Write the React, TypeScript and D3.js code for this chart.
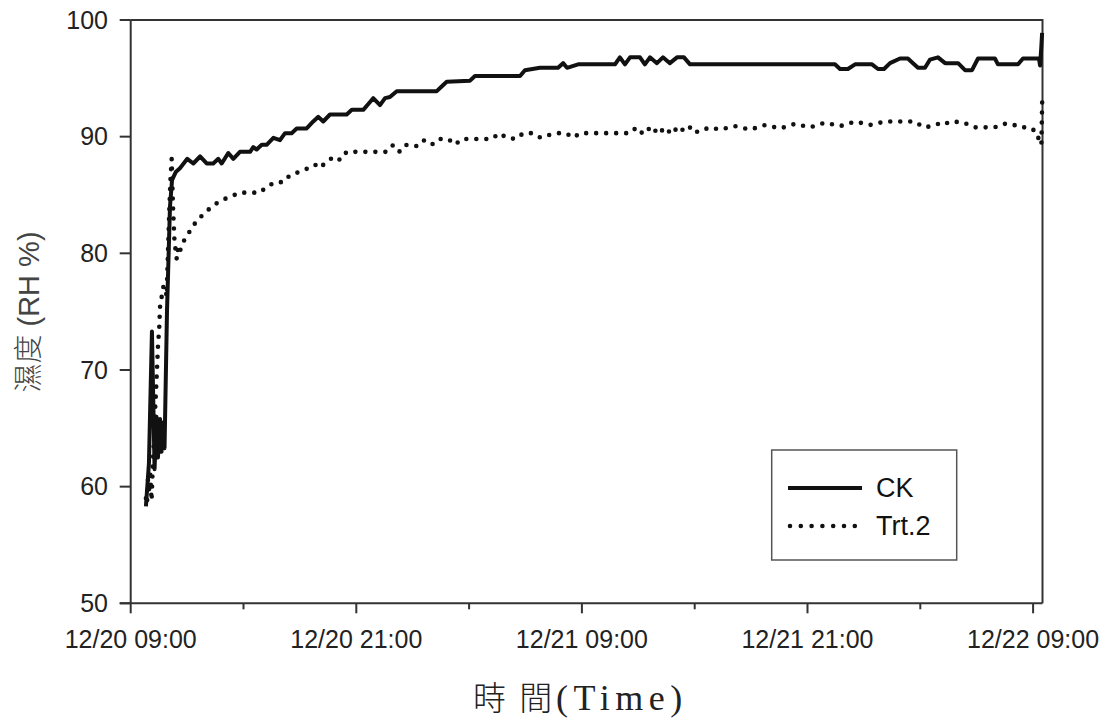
import * as d3 from 'd3'

// hours after 12/20 09:00, relative humidity (%)
const ckHours = [0.81, 0.97, 1.13, 1.27, 1.37, 1.45, 1.56, 1.64, 1.72, 1.8, 1.93, 2.09, 2.2, 2.41, 2.62, 3.01, 3.33, 3.69, 4.04, 4.39, 4.66, 4.84, 5.19, 5.46, 5.81, 6.35, 6.52, 6.7, 6.97, 7.23, 7.59, 7.94, 8.21, 8.56, 8.83, 9.36, 9.71, 9.98, 10.24, 10.6, 11.49, 11.76, 12.37, 12.64, 12.9, 13.26, 13.53, 13.79, 14.15, 16.28, 16.54, 16.81, 18.05, 18.31, 20.71, 20.97, 21.77, 22.73, 23.0, 23.21, 23.8, 25.76, 26.02, 26.29, 26.56, 27.09, 27.35, 27.62, 27.99, 28.31, 28.68, 29.06, 29.43, 29.75, 37.46, 37.73, 38.15, 38.53, 39.43, 39.75, 40.07, 40.39, 40.92, 41.34, 41.61, 41.88, 42.25, 42.51, 42.94, 43.32, 44.01, 44.38, 44.75, 45.07, 45.97, 46.13, 47.2, 47.46, 48.31, 48.37, 48.43, 48.48]
const ckRH = [58.3, 62, 73.3, 61.5, 66, 62.5, 65.8, 63, 65.5, 63.3, 75, 84, 86.3, 87, 87.3, 88.1, 87.7, 88.3, 87.7, 87.7, 88.1, 87.7, 88.6, 88.1, 88.7, 88.7, 89.1, 88.9, 89.3, 89.3, 89.9, 89.7, 90.3, 90.3, 90.7, 90.7, 91.3, 91.7, 91.3, 91.9, 91.9, 92.3, 92.3, 92.8, 93.3, 92.7, 93.3, 93.4, 93.9, 93.9, 94.3, 94.7, 94.8, 95.2, 95.2, 95.7, 95.9, 95.9, 96.3, 95.9, 96.2, 96.2, 96.8, 96.2, 96.8, 96.8, 96.2, 96.8, 96.3, 96.8, 96.3, 96.8, 96.8, 96.2, 96.2, 95.8, 95.8, 96.2, 96.2, 95.8, 95.8, 96.3, 96.7, 96.7, 96.3, 95.9, 95.9, 96.6, 96.8, 96.3, 96.3, 95.7, 95.7, 96.7, 96.7, 96.2, 96.2, 96.7, 96.7, 96.1, 97.5, 98.9]

const trtHours = [0.81, 0.87, 0.92, 1.0, 1.03, 1.11, 1.19, 1.24, 1.29, 1.37, 1.45, 1.52, 1.56, 1.65, 1.73, 1.82, 1.91, 1.98, 2.06, 2.12, 2.18, 2.25, 2.33, 2.45, 2.53, 2.62, 2.89, 3.15, 3.47, 3.95, 4.48, 4.91, 5.37, 5.81, 6.88, 7.23, 7.68, 8.12, 8.47, 9.01, 9.45, 9.8, 10.07, 10.43, 10.87, 11.14, 11.49, 13.62, 13.97, 14.32, 14.68, 15.21, 15.56, 16.01, 16.36, 16.89, 17.25, 17.61, 19.2, 19.61, 20.0, 20.49, 20.88, 21.38, 21.81, 22.16, 22.66, 23.15, 23.54, 23.9, 26.56, 26.91, 27.27, 27.71, 28.06, 28.42, 28.78, 29.13, 29.48, 29.84, 30.14, 30.81, 31.34, 32.14, 32.94, 33.74, 34.54, 35.34, 36.13, 36.93, 37.73, 38.53, 39.33, 40.12, 41.19, 41.72, 42.16, 42.61, 42.96, 43.23, 43.54, 44.02, 44.47, 44.91, 45.97, 46.41, 46.86, 47.27, 47.8, 48.19, 48.33, 48.44, 48.47, 48.49]
const trtRH = [59, 58.5, 60.6, 59.5, 61.4, 58.8, 62.5, 64, 66.3, 69, 72, 73.7, 75.4, 76.3, 77.1, 77.2, 76.3, 80, 84, 86.5, 88.1, 84, 81, 79.5, 80.6, 80.2, 81.3, 81.9, 82.7, 83.5, 84.2, 84.6, 84.9, 85.2, 85.2, 85.7, 86.1, 86.1, 86.7, 87.0, 87.3, 87.6, 87.3, 87.9, 88.3, 88.0, 88.7, 88.7, 89.3, 88.7, 89.3, 89.2, 89.7, 89.3, 89.8, 89.8, 89.3, 89.8, 89.8, 90.3, 89.9, 89.8, 90.3, 90.3, 89.9, 90.1, 90.3, 90.3, 89.9, 90.3, 90.3, 90.8, 90.2, 90.9, 90.2, 90.8, 90.2, 90.9, 90.4, 90.9, 90.4, 90.8, 90.6, 90.9, 90.6, 91.0, 90.7, 91.1, 90.8, 91.2, 90.9, 91.3, 91.0, 91.3, 91.3, 91.3, 90.8, 90.9, 91.1, 91.3, 91.1, 91.3, 91.1, 90.8, 90.8, 91.1, 91.1, 90.8, 90.8, 90.4, 89.6, 89.3, 91.9, 93.7]

const yTicks = [50, 60, 70, 80, 90, 100]
const seriesNames = ['CK', 'Trt.2']

const START = new Date(2010, 11, 20, 9, 0)
const toDate = (h: number) => new Date(START.getTime() + h * 3600e3)

export default function App() {
  const x = d3.scaleTime().domain([START, toDate(48.5)]).range([130.7, 1042.5])
  const y = d3.scaleLinear().domain([50, 100]).range([603.3, 20])
  const [x0, x1] = x.range()
  const [y0, y1] = y.range()

  const line = d3.line<[number, number]>()
    .x(d => x(toDate(d[0])))
    .y(d => y(d[1]))

  const ck = ckHours.map((h, i) => [h, ckRH[i]] as [number, number])
  const trt = trtHours.map((h, i) => [h, trtRH[i]] as [number, number])

  const xTicks = d3.timeHour.range(START, toDate(48.1), 6)
  const fmt = d3.timeFormat('%m/%d %H:%M')
  const sans = '"Liberation Sans", "Noto Sans CJK TC", Arial, sans-serif'
  const frame = '#333'

  return (
    <svg width={1110} height={720} style={{ position: 'absolute', left: 0, top: 0, background: '#fff' }}>
      {/* frame */}
      <path d={`M${x0},${y1}H${x1}V${y0}`} fill="none" stroke={frame} strokeWidth={2} />
      <line x1={x0 - 11} x2={x1} y1={y0} y2={y0} stroke={frame} strokeWidth={2} />
      <line x1={x0} x2={x0} y1={y1} y2={y0} stroke={frame} strokeWidth={2} />

      {yTicks.map(t => (
        <g key={t}>
          <line x1={x0 - 11} x2={x0} y1={y(t)} y2={y(t)} stroke={frame} strokeWidth={2} />
          <text x={108} y={y(t)} dy="0.35em" textAnchor="end" fontSize={25} fontFamily={sans} fill="#222">{t}</text>
        </g>
      ))}

      {xTicks.map((t, i) => {
        const major = i % 2 === 0
        return (
          <g key={i}>
            <line x1={x(t)} x2={x(t)} y1={y0} y2={y0 + (major ? 10 : 6)} stroke={frame} strokeWidth={2} />
            {major && (
              <text x={x(t)} y={648} textAnchor="middle" fontSize={25} fontFamily={sans} fill="#222">{fmt(t)}</text>
            )}
          </g>
        )
      })}

      {/* series */}
      <path d={line(trt) ?? ''} fill="none" stroke="#111" strokeWidth={4.6} strokeLinecap="round" strokeDasharray="0 10" />
      <path d={line(ck) ?? ''} fill="none" stroke="#111" strokeWidth={4} strokeLinejoin="round" />

      {/* legend */}
      <rect x={771.7} y={450} width={185} height={110} fill="#fff" stroke="#555" strokeWidth={1.5} />
      <line x1={788} x2={862} y1={488} y2={488} stroke="#111" strokeWidth={4} />
      <line x1={790} x2={856} y1={526} y2={526} stroke="#111" strokeWidth={4.6} strokeLinecap="round" strokeDasharray="0 10.8" />
      <text x={876} y={497} fontSize={27} fontFamily={sans} fill="#111">{seriesNames[0]}</text>
      <text x={876} y={535} fontSize={27} fontFamily={sans} fill="#111">{seriesNames[1]}</text>

      {/* axis titles */}
      <text transform="translate(39,312) rotate(-90)" textAnchor="middle" fontSize={29} fontFamily={sans} fontWeight={300} fill="#444">濕度 (RH %)</text>
      <text x={473} y={710} fontSize={33} letterSpacing={3} fontFamily='"Noto Sans CJK TC", serif' fontWeight={300} fill="#222">時 間</text>
      <text x={556} y={710} fontSize={36} letterSpacing={5.5} fontFamily='"Liberation Serif", "Times New Roman", serif' fill="#222">(Time)</text>
    </svg>
  )
}
